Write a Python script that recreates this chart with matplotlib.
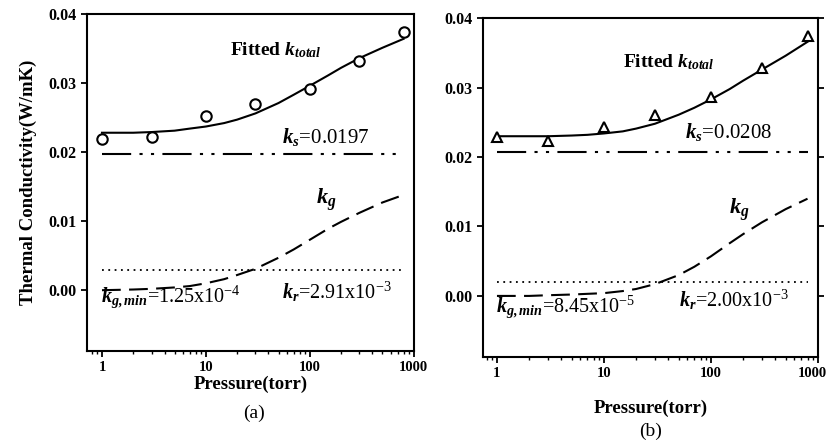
import matplotlib
matplotlib.use("Agg")
import matplotlib.pyplot as plt
import matplotlib.transforms as mtransforms
from matplotlib.ticker import FixedLocator, NullFormatter, LogLocator

plt.rcParams['font.family'] = ['Liberation Serif', 'DejaVu Serif']
plt.rcParams['mathtext.fontset'] = 'custom'
plt.rcParams['mathtext.rm'] = 'Liberation Serif'
plt.rcParams['mathtext.it'] = 'Liberation Serif:italic'
plt.rcParams['mathtext.bf'] = 'Liberation Serif:bold'
plt.rcParams['mathtext.bfit'] = 'Liberation Serif:italic:bold'

# measured points
p_meas = [1, 3, 10, 30, 100, 300, 800]
k_meas_a = [0.0219, 0.0222, 0.0252, 0.0270, 0.0291, 0.0332, 0.0374]
k_meas_b = [0.0229, 0.0223, 0.0243, 0.0260, 0.0286, 0.0328, 0.0374]

# curves
p_curve = [1, 2, 3, 5, 7, 10, 15, 20, 30, 50, 70, 100, 150, 200, 300, 500, 800]
fit_a = [0.0228, 0.0228, 0.0229, 0.0231, 0.0234, 0.0237, 0.0242, 0.0247, 0.0256,
         0.0271, 0.0283, 0.0296, 0.0311, 0.0322, 0.0336, 0.0351, 0.0364]
kg_a = [0.0000, 0.0001, 0.0002, 0.0004, 0.0006, 0.0010, 0.0016, 0.0022, 0.0031,
        0.0047, 0.0059, 0.0073, 0.0089, 0.0099, 0.0112, 0.0127, 0.0138]
fit_b = [0.0230, 0.0230, 0.0230, 0.0231, 0.0232, 0.0234, 0.0237, 0.0241, 0.0248,
         0.0261, 0.0271, 0.0283, 0.0298, 0.0310, 0.0326, 0.0346, 0.0366]
kg_b = [0.0000, 0.0000, 0.0001, 0.0002, 0.0003, 0.0004, 0.0007, 0.0010, 0.0017,
        0.0030, 0.0042, 0.0057, 0.0076, 0.0089, 0.0106, 0.0125, 0.0140]

ks_a, kr_a = 0.0197, 0.00291
ks_b, kr_b = 0.0208, 0.00200

x_ticks = [1, 10, 100, 1000]
x_ticklabels = ['1', '10', '100', '1000']
y_ticks = [0.00, 0.01, 0.02, 0.03, 0.04]
y_ticklabels = ['0.00', '0.01', '0.02', '0.03', '0.04']

fig = plt.figure(figsize=(8.29, 4.47), dpi=100)
ax_a = fig.add_axes([0.105, 0.2148, 0.394, 0.754])
ax_b = fig.add_axes([0.5826, 0.2013, 0.404, 0.758])


def draw_panel(ax, k_meas, marker, fit, kg, ks, kr, xmin, labels):
    ax.plot(p_curve, fit, color='black', lw=1.5)
    ax.plot(p_meas, k_meas, linestyle='none', marker=marker, ms=7.5,
            mfc='white', mec='black', mew=1.5)
    ax.plot(p_curve, kg, color='black', lw=1.5, dashes=(9, 4))
    ax.plot([p_curve[0], p_curve[-1]], [ks, ks], color='black', lw=1.5,
            dashes=(14, 4, 1.5, 4, 1.5, 4))
    ax.plot([p_curve[0], p_curve[-1]], [kr, kr], color='black', lw=1.3,
            dashes=(1, 2.5))
    ax.set_xscale('log')
    ax.set_xlim(xmin, 1000)
    ax.set_ylim(-0.0088, 0.04)
    ax.xaxis.set_major_locator(FixedLocator(x_ticks))
    ax.set_xticklabels(x_ticklabels, fontweight='bold', fontsize=10.5)
    ax.xaxis.set_minor_locator(LogLocator(base=10, subs=range(2, 10)))
    ax.xaxis.set_minor_formatter(NullFormatter())
    ax.set_yticks(y_ticks)
    ax.set_yticklabels(y_ticklabels, fontweight='bold', fontsize=11.5)
    ax.tick_params(which='major', length=4, width=1.3)
    ax.tick_params(which='minor', length=2, width=1)
    for s in ax.spines.values():
        s.set_linewidth(1.5)
    for (x, y, s, fs) in labels:
        ax.text(x, y, s, fontsize=fs, va='center', ha='left')


labels_a = [
    (17, 0.0348, r'$\mathbf{Fitted}\ \mathbfit{k}_{\mathbfit{total}}$', 14),
    (54, 0.0222, r'$\mathbfit{k}_{\mathbfit{s}}$=0.0197', 15),
    (116, 0.0131, r'$\mathbfit{k}_{\mathbfit{g}}$', 16),
    (0.98, -0.0010, r'$\mathbfit{k}_{\mathbfit{g,min}}$=1.25x10$^{-4}$', 14.5),
    (54, -0.0003, r'$\mathbfit{k}_{\mathbfit{r}}$=2.91x10$^{-3}$', 14.5),
]
labels_b = [
    (15, 0.0337, r'$\mathbf{Fitted}\ \mathbfit{k}_{\mathbfit{total}}$', 14),
    (57, 0.0236, r'$\mathbfit{k}_{\mathbfit{s}}$=0.0208', 15),
    (148, 0.0124, r'$\mathbfit{k}_{\mathbfit{g}}$', 16),
    (0.98, -0.0016, r'$\mathbfit{k}_{\mathbfit{g,min}}$=8.45x10$^{-5}$', 14.5),
    (50, -0.0006, r'$\mathbfit{k}_{\mathbfit{r}}$=2.00x10$^{-3}$', 14.5),
]

draw_panel(ax_a, k_meas_a, 'o', fit_a, kg_a, ks_a, kr_a, 0.718, labels_a)
draw_panel(ax_b, k_meas_b, '^', fit_b, kg_b, ks_b, kr_b, 0.74, labels_b)
ax_b.tick_params(axis='y', right=True)

# keep the last "1000" of panel (b) inside the figure
last = ax_b.get_xticklabels()[-1]
last.set_transform(last.get_transform() +
                   mtransforms.ScaledTranslation(-4 / 72, 0, fig.dpi_scale_trans))

ax_a.set_ylabel('Thermal Conductivity(W/mK)', fontweight='bold', fontsize=13.5, labelpad=8)
ax_a.set_xlabel('Pressure(torr)', fontweight='bold', fontsize=13.5, labelpad=1)
ax_b.set_xlabel('Pressure(torr)', fontweight='bold', fontsize=13.5, labelpad=14)
fig.text(0.306, 0.075, '(a)', fontsize=14, ha='center', va='center')
fig.text(0.785, 0.034, '(b)', fontsize=14, ha='center', va='center')

fig.savefig('out.png', dpi=100)
